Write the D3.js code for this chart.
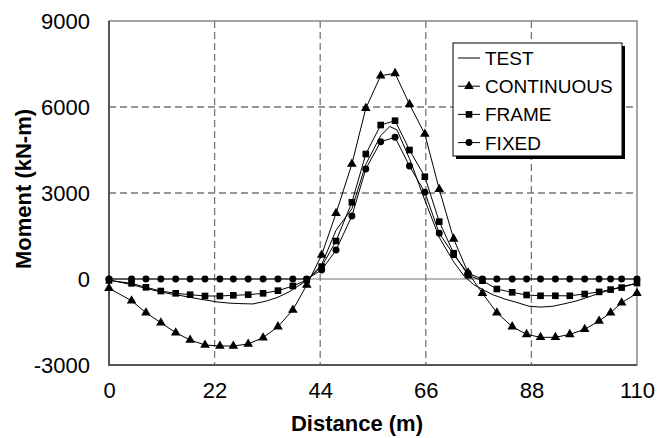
<!DOCTYPE html>
<html>
<head>
<meta charset="utf-8">
<script src="https://cdn.jsdelivr.net/npm/d3@7"></script>
<style>
body{margin:0;background:#fff}
svg{display:block;font-family:Arial,"Liberation Sans",sans-serif}
</style>
</head>
<body>
<div id="chart"></div>
<script>
// node positions (m) shared by the model series
var nodeX = [0, 4.7, 7.7, 10.8, 13.9, 16.9, 20.0, 23.1, 25.9, 29.0, 32.1, 35.2, 38.3, 41.2, 44.3, 47.3, 50.6, 53.5, 56.6, 59.6, 62.6, 65.8, 68.8, 71.8, 74.8, 77.8, 80.8, 84.0, 87.0, 89.9, 93.0, 96.0, 99.1, 102.1, 104.5, 106.8, 110]
var continuousY = [-325, -757, -1175, -1524, -1873, -2128, -2302, -2337, -2337, -2267, -2047, -1663, -1081, -209, 837, 2292, 4011, 5954, 7091, 7173, 6094, 5058, 3129, 1400, 220, -500, -1175, -1663, -1931, -2035, -2035, -1931, -1756, -1465, -1175, -826, -500]
var frameY = [-50, -151, -290, -419, -500, -547, -593, -593, -570, -547, -500, -407, -244, -35, 429, 1325, 2675, 4360, 5371, 5522, 4500, 3568, 2000, 900, 130, -59, -350, -465, -558, -585, -585, -585, -523, -450, -370, -300, -140]
var fixedY = [0, 0, 0, 0, 0, 0, 0, 0, 0, 0, 0, 0, 0, 0, 314, 1011, 2197, 3840, 4790, 4942, 3941, 3024, 1594, 850, 200, 0, 0, 0, 0, 0, 0, 0, 0, 0, 0, 0, 0]

// measured curve
var testX = [0, 2.5, 5, 7.5, 10, 12.5, 15, 17.5, 20, 22.5, 25, 27.5, 30, 32.5, 35, 37.5, 40, 41.5, 44.3, 47.3, 50.6, 53.5, 56.6, 58.5, 60, 62.6, 65.8, 68.8, 71.8, 74, 76, 78, 80, 82.5, 85, 87.5, 90, 92.5, 95, 97.5, 100, 102.5, 105, 107.5, 110]
var testY = [-30, -120, -210, -320, -420, -510, -580, -660, -730, -800, -840, -860, -870, -780, -650, -450, -180, 0, 500, 1700, 2450, 4000, 5000, 5320, 5200, 4200, 2750, 1450, 600, 100, -200, -380, -550, -700, -820, -950, -980, -950, -860, -760, -620, -480, -350, -240, -150]

var xTicks = [0, 22, 44, 66, 88, 110]
var yTicks = [-3000, 0, 3000, 6000, 9000]
var legendNames = ["TEST", "CONTINUOUS", "FRAME", "FIXED"]

var W = 659, H = 438
var x = d3.scaleLinear().domain([0, 110]).range([109, 637])
var y = d3.scaleLinear().domain([-3000, 9000]).range([365, 21])

var svg = d3.select("#chart").append("svg")
  .attr("width", W).attr("height", H)

// grid
svg.append("g").selectAll("line")
  .data(xTicks.slice(1, -1))
  .enter().append("line")
  .attr("x1", function(d){return x(d)}).attr("x2", function(d){return x(d)})
  .attr("y1", y(9000)).attr("y2", y(-3000))
  .attr("stroke", "#777").attr("stroke-width", 1.3).attr("stroke-dasharray", "7,4")
svg.append("g").selectAll("line")
  .data([3000, 6000])
  .enter().append("line")
  .attr("x1", x(0)).attr("x2", x(110))
  .attr("y1", function(d){return y(d)}).attr("y2", function(d){return y(d)})
  .attr("stroke", "#777").attr("stroke-width", 1.3).attr("stroke-dasharray", "7,4")

// zero line
svg.append("line")
  .attr("x1", x(0)).attr("x2", x(110)).attr("y1", y(0)).attr("y2", y(0))
  .attr("stroke", "#777").attr("stroke-width", 1.2)

// frame
svg.append("rect")
  .attr("x", x(0)).attr("y", y(9000))
  .attr("width", x(110) - x(0)).attr("height", y(-3000) - y(9000))
  .attr("fill", "none").attr("stroke", "#888").attr("stroke-width", 1.5)
svg.append("path")
  .attr("d", "M" + x(0) + "," + y(9000) + "V" + y(-3000) + "H" + x(110))
  .attr("fill", "none").attr("stroke", "#555").attr("stroke-width", 2)

// axes labels
var yAxis = d3.axisLeft(y).tickValues(yTicks).tickSize(0).tickPadding(19)
  .tickFormat(function(d){return String(d)})
var gy = svg.append("g").attr("transform", "translate(" + x(0) + ",0)").call(yAxis)
gy.select(".domain").remove()
gy.selectAll("text").attr("font-size", 22).attr("fill", "#000").attr("font-family", "Arial,Liberation Sans,sans-serif")

var xAxis = d3.axisBottom(x).tickValues(xTicks).tickSize(0).tickPadding(17)
  .tickFormat(function(d){return String(d)})
var gx = svg.append("g").attr("transform", "translate(0," + y(-3000) + ")").call(xAxis)
gx.select(".domain").remove()
gx.selectAll("text").attr("font-size", 22).attr("fill", "#000").attr("font-family", "Arial,Liberation Sans,sans-serif")

svg.append("text")
  .attr("x", 357).attr("y", 431)
  .attr("text-anchor", "middle").attr("font-size", 22).attr("font-weight", "bold")
  .text("Distance (m)")
svg.append("text")
  .attr("transform", "translate(31,189) rotate(-90)")
  .attr("text-anchor", "middle").attr("font-size", 22).attr("font-weight", "bold")
  .text("Moment (kN-m)")

var line = d3.line().x(function(d){return x(d[0])}).y(function(d){return y(d[1])})

function zip(a, b){
  return a.map(function(d, i){return [d, b[i]]})
}

// markers
var tri = d3.symbol().type(d3.symbolTriangle).size(40)
var sq = d3.symbol().type(d3.symbolSquare).size(44)
var circ = d3.symbol().type(d3.symbolCircle).size(38)

var series = [
  {name: "CONTINUOUS", pts: zip(nodeX, continuousY), sym: tri},
  {name: "FRAME", pts: zip(nodeX, frameY), sym: sq},
  {name: "FIXED", pts: zip(nodeX, fixedY), sym: circ}
]

svg.append("path")
  .attr("d", line(zip(testX, testY)))
  .attr("fill", "none").attr("stroke", "#000").attr("stroke-width", 1)

series.forEach(function(s){
  svg.append("path")
    .attr("d", line(s.pts))
    .attr("fill", "none").attr("stroke", "#000").attr("stroke-width", 1)
  svg.append("g").selectAll("path")
    .data(s.pts)
    .enter().append("path")
    .attr("transform", function(d){return "translate(" + x(d[0]) + "," + y(d[1]) + ")"})
    .attr("d", s.sym())
    .attr("fill", "#000")
})

// legend
var lg = svg.append("g").attr("transform", "translate(453,43)")
lg.append("rect").attr("x", 3).attr("y", 3).attr("width", 169).attr("height", 113).attr("fill", "#000")
lg.append("rect").attr("x", 0).attr("y", 0).attr("width", 169).attr("height", 113)
  .attr("fill", "#fff").attr("stroke", "#000").attr("stroke-width", 1)
var legSyms = [null, tri, sq, circ]
legendNames.forEach(function(n, i){
  var ry = 15 + i * 28.2
  lg.append("line").attr("x1", 5).attr("x2", 27).attr("y1", ry).attr("y2", ry)
    .attr("stroke", "#000").attr("stroke-width", 1)
  if (legSyms[i]){
    lg.append("path").attr("transform", "translate(16," + ry + ")").attr("d", legSyms[i]()).attr("fill", "#000")
  }
  lg.append("text").attr("x", 32).attr("y", ry + 7).attr("font-size", 19).text(n)
})
</script>
</body>
</html>
